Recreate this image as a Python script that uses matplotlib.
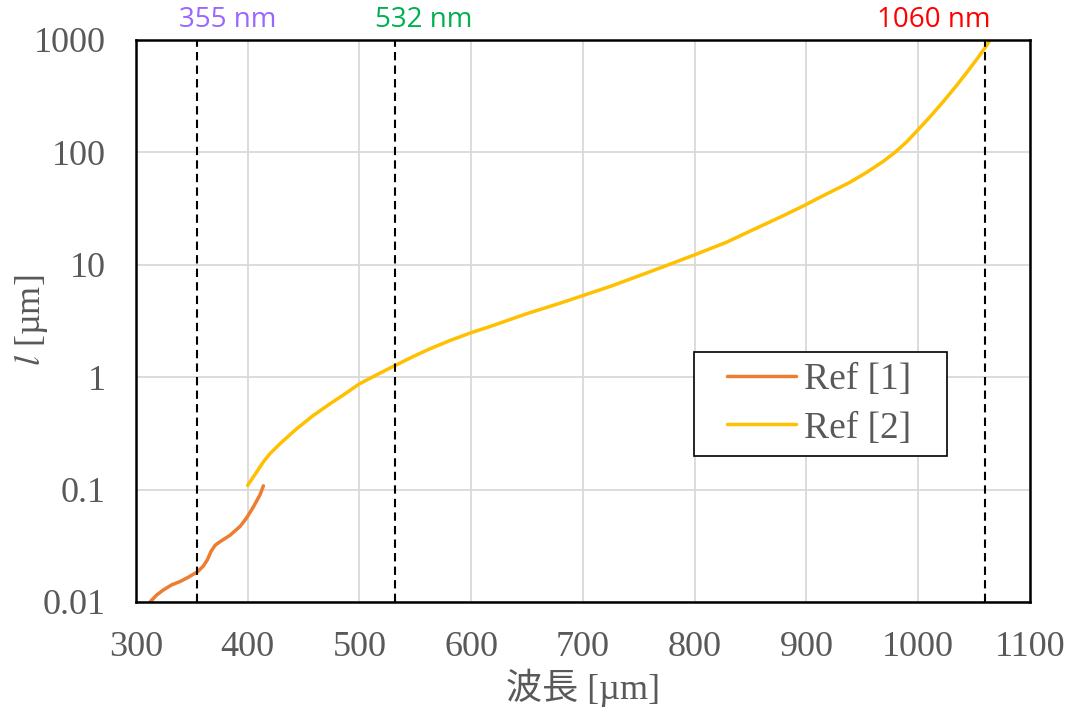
import matplotlib
matplotlib.use("Agg")
import matplotlib.pyplot as plt
from matplotlib.patches import Rectangle
from matplotlib.ticker import FixedLocator, FuncFormatter
import matplotlib.transforms as mtransforms

# Ref [1] : wavelength vs l (um)
ref1_x = [312.5, 318.5, 324.5, 331.9, 339.4, 346.8, 355.2, 360.3, 363.8, 367.1,
          370.7, 375.2, 384.1, 393.1, 399.0, 405.0, 411.0, 414.0]
ref1_y = [0.0100, 0.01154, 0.0128, 0.0142, 0.0152, 0.0166, 0.0186, 0.0209, 0.0237, 0.0281,
          0.0319, 0.0344, 0.0392, 0.0470, 0.0560, 0.0700, 0.0900, 0.108]

# Ref [2]
ref2_x = [399.9, 408.0, 413.9, 419.9, 428.9, 443.8, 458.7, 473.6, 488.5, 499.9,
          518.3, 531.8, 548.2, 563.1, 581.0, 600.0, 619.8, 649.6, 679.4, 700.3,
          724.2, 751.0, 774.9, 800.2, 828.6, 849.4, 876.3, 897.0, 909.1, 924.0,
          938.9, 953.8, 968.7, 979.2, 989.6, 1000.1, 1010.5, 1022.4, 1034.4, 1043.3,
          1052.3, 1059.7, 1064.2]
ref2_y = [0.109, 0.1435, 0.176, 0.209, 0.256, 0.348, 0.457, 0.580, 0.727, 0.873,
          1.086, 1.27, 1.53, 1.79, 2.12, 2.49, 2.89, 3.67, 4.55, 5.34,
          6.41, 8.04, 9.86, 12.3, 15.9, 19.9, 26.5, 33.3, 38.5, 45.7,
          54.2, 66.4, 83.2, 100, 124, 160, 207, 283, 395, 512,
          672, 850, 1000]

marker_wl = [355, 532, 1060]
marker_labels = ["355 nm", "532 nm", "1060 nm"]
marker_colors = ["#9966FF", "#00B050", "#FF0000"]
marker_label_x = [382, 557, 1014]

x_ticks = [300, 400, 500, 600, 700, 800, 900, 1000, 1100]
y_ticks = [0.01, 0.1, 1, 10, 100, 1000]

GRAY = "#595959"
SERIF = ["Liberation Serif", "Noto Sans CJK JP", "DejaVu Serif"]

plt.rcParams["mathtext.fontset"] = "stix"

fig = plt.figure(figsize=(10.7, 7.13), dpi=100)
ax = fig.add_axes([0.1271, 0.1557, 0.8355, 0.7882])

ax.plot(ref1_x, ref1_y, color="#ED7D31", lw=2.5, label="Ref [1]",
        solid_capstyle="round", solid_joinstyle="round")
ax.plot(ref2_x, ref2_y, color="#FFC000", lw=2.5, label="Ref [2]",
        solid_capstyle="round", solid_joinstyle="round")

for wl in marker_wl:
    ax.axvline(wl, color="black", lw=1.5, linestyle=(0, (4, 2.5)), zorder=3)

trans = mtransforms.blended_transform_factory(ax.transData, ax.transAxes)
for lx, lab, col in zip(marker_label_x, marker_labels, marker_colors):
    ax.text(lx, 1.036, lab, color=col, fontsize=20, family=["Open Sans", "DejaVu Sans"],
            ha="center", va="center", transform=trans)

ax.set_yscale("log")
ax.set_xlim(300, 1100)
ax.set_ylim(0.01, 1000)
ax.xaxis.set_major_locator(FixedLocator(x_ticks))
ax.yaxis.set_major_locator(FixedLocator(y_ticks))
ax.yaxis.set_minor_locator(FixedLocator([]))
ax.yaxis.set_major_formatter(FuncFormatter(lambda v, p: f"{v:g}"))
ax.grid(True, color="#D9D9D9", lw=1.3, zorder=0)
ax.set_axisbelow(True)

ax.tick_params(axis="both", length=0, labelsize=26, labelcolor=GRAY)
ax.tick_params(axis="y", pad=22)
ax.tick_params(axis="x", pad=21)
for lbl in ax.get_xticklabels() + ax.get_yticklabels():
    lbl.set_family(SERIF)

for sp in ax.spines.values():
    sp.set_linewidth(1.8)
    sp.set_color("black")

ax.set_xlabel("波長 [µm]", fontsize=26, color=GRAY, family=SERIF, labelpad=3)
ax.set_ylabel("$l$ [µm]", fontsize=26, color=GRAY, family=SERIF, va="center")
ax.yaxis.set_label_coords(-0.118, 0.502)

# legend frame drawn separately (wider side padding than matplotlib's)
ax.add_patch(Rectangle((0.6242, 0.2598), 0.2830, 0.1850, transform=ax.transAxes,
                       facecolor="white", edgecolor="black", lw=1.2, zorder=4))
leg = ax.legend(loc="center", bbox_to_anchor=(0.764, 0.3523), frameon=False,
                handlelength=1.85, handletextpad=0.2, borderpad=0.2, labelspacing=0.38,
                prop={"family": SERIF, "size": 27})
leg.set_zorder(5)
for t in leg.get_texts():
    t.set_color(GRAY)

fig.savefig("out.png", dpi=100)
